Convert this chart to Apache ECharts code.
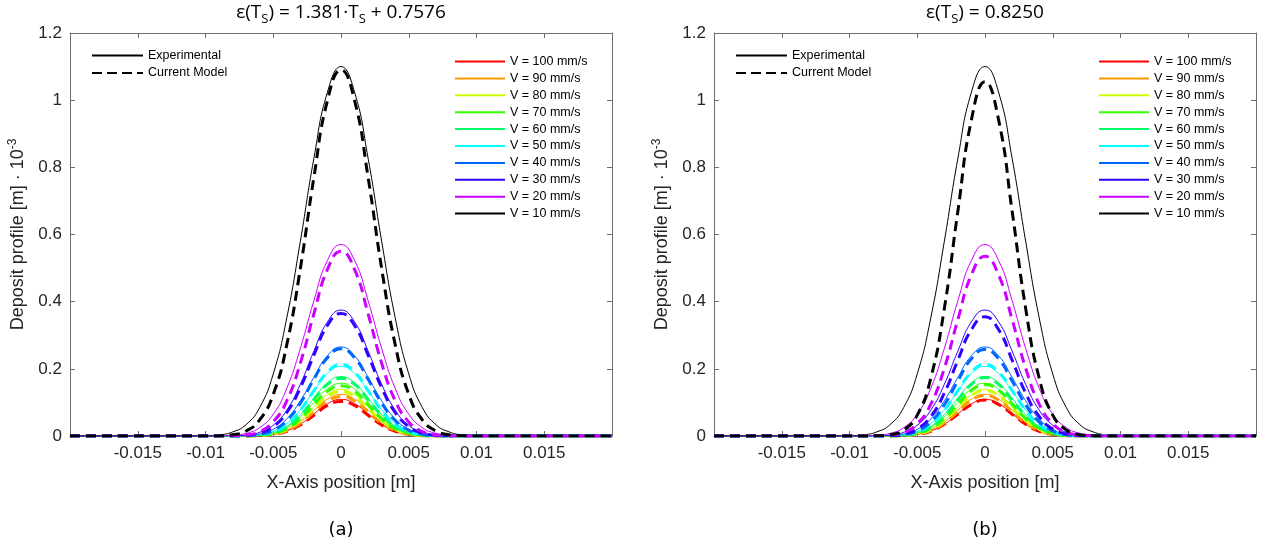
<!DOCTYPE html>
<html>
<head>
<meta charset="utf-8">
<script src="https://cdn.jsdelivr.net/npm/echarts@6/dist/echarts.min.js"></script>
<style>
  html, body { margin: 0; padding: 0; background: #ffffff; }
  #chart { width: 1265px; height: 547px; }
</style>
</head>
<body>
<div id="chart"></div>
<script>
// Deposit profiles across the track, one row per scanning speed.
// Values are given for x >= 0; the profiles are symmetric about x = 0.
const X_HALF = [0, 0.001, 0.002, 0.003, 0.004, 0.005, 0.006, 0.007, 0.008, 0.009, 0.01, 0.02];

const VELOCITIES = ['V = 100 mm/s', 'V = 90 mm/s', 'V = 80 mm/s', 'V = 70 mm/s', 'V = 60 mm/s',
                    'V = 50 mm/s', 'V = 40 mm/s', 'V = 30 mm/s', 'V = 20 mm/s', 'V = 10 mm/s'];

const COLORS = ['#ff0000', '#ff9900', '#ccff00', '#33ff00', '#00ff66',
                '#00ffff', '#0066ff', '#3300ff', '#cc00ff', '#000000'];

// measured deposit height [m * 1e-3]
const EXPERIMENTAL = [
  [0.109, 0.096, 0.066, 0.035, 0.015, 0.005, 0.001, 0, 0, 0, 0, 0],
  [0.124, 0.110, 0.077, 0.042, 0.018, 0.006, 0.002, 0, 0, 0, 0, 0],
  [0.139, 0.123, 0.086, 0.048, 0.021, 0.007, 0.002, 0, 0, 0, 0, 0],
  [0.157, 0.140, 0.100, 0.057, 0.026, 0.009, 0.003, 0.001, 0, 0, 0, 0],
  [0.177, 0.158, 0.112, 0.064, 0.029, 0.010, 0.003, 0.001, 0, 0, 0, 0],
  [0.207, 0.186, 0.134, 0.078, 0.037, 0.014, 0.004, 0.001, 0, 0, 0, 0],
  [0.265, 0.239, 0.175, 0.105, 0.051, 0.020, 0.006, 0.002, 0, 0, 0, 0],
  [0.375, 0.340, 0.253, 0.154, 0.077, 0.032, 0.011, 0.003, 0.001, 0, 0, 0],
  [0.570, 0.523, 0.403, 0.261, 0.142, 0.065, 0.025, 0.008, 0.002, 0.001, 0, 0],
  [1.100, 1.024, 0.827, 0.580, 0.352, 0.185, 0.085, 0.034, 0.012, 0.003, 0, 0]
];

// model with temperature-dependent emissivity
const MODEL_A = [
  [0.103, 0.091, 0.062, 0.033, 0.014, 0.005, 0.001, 0, 0, 0, 0, 0],
  [0.118, 0.104, 0.072, 0.038, 0.016, 0.005, 0.001, 0, 0, 0, 0, 0],
  [0.133, 0.118, 0.083, 0.046, 0.020, 0.007, 0.002, 0, 0, 0, 0, 0],
  [0.150, 0.133, 0.093, 0.051, 0.022, 0.008, 0.002, 0, 0, 0, 0, 0],
  [0.172, 0.154, 0.109, 0.062, 0.028, 0.010, 0.003, 0.001, 0, 0, 0, 0],
  [0.213, 0.190, 0.135, 0.077, 0.035, 0.013, 0.004, 0.001, 0, 0, 0, 0],
  [0.260, 0.233, 0.169, 0.098, 0.046, 0.017, 0.005, 0.001, 0, 0, 0, 0],
  [0.365, 0.329, 0.241, 0.144, 0.070, 0.028, 0.009, 0.002, 0, 0, 0, 0],
  [0.550, 0.496, 0.364, 0.217, 0.105, 0.042, 0.013, 0.003, 0.001, 0, 0, 0],
  [1.090, 0.999, 0.770, 0.499, 0.272, 0.124, 0.048, 0.015, 0.004, 0.001, 0, 0]
];

// model with constant emissivity
const MODEL_B = [
  [0.107, 0.094, 0.065, 0.035, 0.014, 0.005, 0.001, 0, 0, 0, 0, 0],
  [0.121, 0.107, 0.073, 0.039, 0.016, 0.005, 0.001, 0, 0, 0, 0, 0],
  [0.136, 0.121, 0.084, 0.047, 0.020, 0.007, 0.002, 0, 0, 0, 0, 0],
  [0.153, 0.136, 0.095, 0.052, 0.023, 0.008, 0.002, 0, 0, 0, 0, 0],
  [0.174, 0.154, 0.108, 0.060, 0.026, 0.009, 0.002, 0, 0, 0, 0, 0],
  [0.213, 0.190, 0.135, 0.077, 0.035, 0.013, 0.004, 0.001, 0, 0, 0, 0],
  [0.258, 0.230, 0.164, 0.093, 0.042, 0.015, 0.004, 0.001, 0, 0, 0, 0],
  [0.355, 0.317, 0.226, 0.128, 0.058, 0.021, 0.006, 0.001, 0, 0, 0, 0],
  [0.535, 0.480, 0.347, 0.202, 0.095, 0.036, 0.011, 0.003, 0.001, 0, 0, 0],
  [1.055, 0.942, 0.670, 0.380, 0.172, 0.062, 0.018, 0.004, 0.001, 0, 0, 0]
];

const PANEL_TITLES = [
  '{n|ε(T}{s|S}{n|) = 1.381·T}{s|S}{n| + 0.7576}',
  '{n|ε(T}{s|S}{n|) = 0.8250}'
];
const PANEL_CAPTIONS = ['(a)', '(b)'];
const PANEL_MODELS = [MODEL_A, MODEL_B];

// build the full profile from the half-profile
function fullProfile(half) {
  const pts = [];
  for (let i = half.length - 1; i >= 1; i--) pts.push([-X_HALF[i], half[i]]);
  for (let i = 0; i < half.length; i++) pts.push([X_HALF[i], half[i]]);
  return pts;
}

const FONT = 'Liberation Sans, Arial, sans-serif';
const TITLE_FONT = 'Open Sans, Noto Sans, sans-serif';
const AXIS_COLOR = '#6e6e6e';
const LABEL_COLOR = '#262626';
const GRID_LEFT = [70, 714];
const GRID_TOP = 33, GRID_W = 542, GRID_H = 403;

const grids = [], xAxes = [], yAxes = [], series = [], legends = [], titles = [];

const xLabelFmt = v => (Math.abs(Math.abs(v) - 0.02) < 1e-9 ? '' : String(+v.toFixed(3)));
const yLabelFmt = v => String(+v.toFixed(1));

PANEL_MODELS.forEach((model, p) => {
  const off = GRID_LEFT[p] - GRID_LEFT[0];
  grids.push({ left: GRID_LEFT[p], top: GRID_TOP, width: GRID_W, height: GRID_H, containLabel: false });

  const axisCommon = {
    gridIndex: p,
    type: 'value',
    axisLine: { show: true, onZero: false, lineStyle: { color: AXIS_COLOR, width: 1 } },
    axisTick: { show: true, inside: true, length: 5, lineStyle: { color: AXIS_COLOR, width: 1 } },
    splitLine: { show: false }
  };

  xAxes.push(Object.assign({}, axisCommon, {
    position: 'bottom', min: -0.02, max: 0.02, interval: 0.005,
    axisLabel: { show: true, margin: 9, fontSize: 17, color: LABEL_COLOR, fontFamily: FONT, formatter: xLabelFmt },
    name: 'X-Axis position [m]', nameLocation: 'middle', nameGap: 38,
    nameTextStyle: { fontSize: 18, color: LABEL_COLOR, fontFamily: FONT }
  }));
  xAxes.push(Object.assign({}, axisCommon, {
    position: 'top', min: -0.02, max: 0.02, interval: 0.005, axisLabel: { show: false }
  }));

  yAxes.push(Object.assign({}, axisCommon, {
    position: 'left', min: 0, max: 1.2, interval: 0.2,
    axisLabel: { show: true, margin: 8, fontSize: 17, color: LABEL_COLOR, fontFamily: FONT, formatter: yLabelFmt },
    name: '{a|Deposit profile [m] · 10}{s|-3}', nameLocation: 'middle', nameGap: 41,
    nameTextStyle: {
      color: LABEL_COLOR,
      rich: {
        a: { fontSize: 18, fontFamily: FONT, color: LABEL_COLOR, lineHeight: 22 },
        s: { fontSize: 12, fontFamily: FONT, color: LABEL_COLOR, lineHeight: 12, verticalAlign: 'top' }
      }
    }
  }));
  yAxes.push(Object.assign({}, axisCommon, {
    position: 'right', min: 0, max: 1.2, interval: 0.2, axisLabel: { show: false }
  }));

  // measured profiles: thin solid lines
  EXPERIMENTAL.forEach((half, i) => {
    series.push({
      type: 'line', name: VELOCITIES[i], xAxisIndex: 2 * p, yAxisIndex: 2 * p,
      data: fullProfile(half), smooth: true, symbol: 'none', showSymbol: false,
      lineStyle: { color: COLORS[i], width: 1 }, itemStyle: { color: COLORS[i] },
      silent: true, animation: false
    });
  });
  // model profiles: thick dashed lines
  model.forEach((half, i) => {
    series.push({
      type: 'line', name: VELOCITIES[i], xAxisIndex: 2 * p, yAxisIndex: 2 * p,
      data: fullProfile(half), smooth: true, symbol: 'none', showSymbol: false,
      lineStyle: { color: COLORS[i], width: 3, type: [10, 6] }, itemStyle: { color: COLORS[i] },
      silent: true, animation: false
    });
  });

  legends.push({
    orient: 'vertical', left: 91 + off, top: 49, padding: 0,
    itemWidth: 51, itemHeight: 14, itemGap: 4.5,
    data: ['Experimental', 'Current Model'], selectedMode: false,
    itemStyle: { opacity: 0 },
    textStyle: { fontSize: 12.5, color: '#000', fontFamily: FONT }
  });
  legends.push({
    orient: 'vertical', left: 454 + off, top: 55, padding: 0,
    itemWidth: 50, itemHeight: 14, itemGap: 3.9,
    data: VELOCITIES.slice(), selectedMode: false,
    itemStyle: { opacity: 0 },
    textStyle: { fontSize: 12.5, color: '#000', fontFamily: FONT }
  });

  titles.push({
    text: PANEL_TITLES[p], left: GRID_LEFT[p] + GRID_W / 2, top: 0, padding: 0, textAlign: 'center',
    textStyle: {
      fontWeight: 'normal',
      rich: {
        n: { fontSize: 19, fontWeight: 'normal', fontFamily: TITLE_FONT, color: '#000', lineHeight: 26 },
        s: { fontSize: 13, fontWeight: 'normal', fontFamily: TITLE_FONT, color: '#000', lineHeight: 13, verticalAlign: 'bottom' }
      }
    }
  });
  titles.push({
    text: PANEL_CAPTIONS[p], left: GRID_LEFT[p] + GRID_W / 2, top: 521, padding: 0, textAlign: 'center',
    textStyle: { fontSize: 18, fontWeight: 'normal', fontFamily: 'DejaVu Sans, sans-serif', color: '#000' }
  });
});

// legend keys for the line styles (no data)
series.push({
  type: 'line', name: 'Experimental', xAxisIndex: 0, yAxisIndex: 0, data: [],
  symbol: 'none', lineStyle: { color: '#000', width: 2.5 }, itemStyle: { color: '#000' }
});
series.push({
  type: 'line', name: 'Current Model', xAxisIndex: 0, yAxisIndex: 0, data: [],
  symbol: 'none', lineStyle: { color: '#000', width: 2.5, type: [10, 5] }, itemStyle: { color: '#000' }
});

const chart = echarts.init(document.getElementById('chart'), null, { renderer: 'canvas' });
chart.setOption({
  animation: false,
  backgroundColor: '#ffffff',
  title: titles,
  grid: grids,
  xAxis: xAxes,
  yAxis: yAxes,
  legend: legends,
  series: series
});
</script>
</body>
</html>
